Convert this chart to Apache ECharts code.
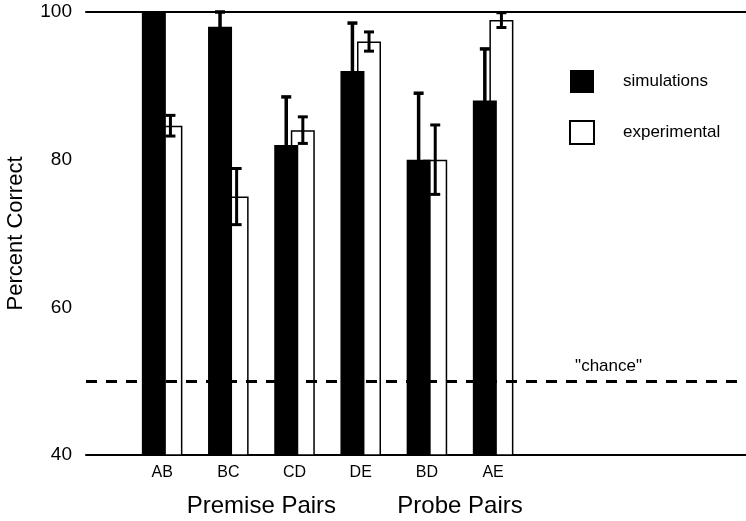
<!DOCTYPE html>
<html>
<head>
<meta charset="utf-8">
<script src="https://cdn.jsdelivr.net/npm/echarts@6/dist/echarts.min.js"></script>
<style>
  html, body { margin: 0; padding: 0; background: #fff; }
  #chart { width: 746px; height: 521px; }
</style>
</head>
<body>
<div id="chart"></div>
<script>
// values
var pairs = ['AB', 'BC', 'CD', 'DE', 'BD', 'AE'];
var simulations = [100, 98, 82, 92, 80, 88];
var simErr = [0, 2, 6.5, 6.5, 9, 7];
var experimental = [84.6, 75, 84, 96, 80, 98.9];
var expErr = [1.4, 3.8, 1.8, 1.3, 4.7, 1.0];
var groupNames = ['Premise Pairs', 'Probe Pairs'];
var groupPos = [1.5, 4.5];
var yTicks = [40, 60, 80, 100];
var chance = 50;

var font = '"Liberation Sans", Arial, sans-serif';

var simData = pairs.map(function (p, i) { return [i, simulations[i]]; });
var expData = pairs.map(function (p, i) { return [i, experimental[i]]; });
var simErrData = pairs.map(function (p, i) { return [i, simulations[i], simErr[i]]; });
var expErrData = pairs.map(function (p, i) { return [i, experimental[i], expErr[i]]; });

// whiskers drawn a few px left/right of the group centre, over each bar
function errorBar(shift, width) {
  return function (params, api) {
    var x = api.value(0), v = api.value(1), e = api.value(2);
    if (!e) return;
    var hi = api.coord([x, v + e]);
    var lo = api.coord([x, v - e]);
    var cx = hi[0] + shift;
    var style = { stroke: '#000', lineWidth: width };
    return {
      type: 'group',
      children: [
        { type: 'line', shape: { x1: cx, y1: hi[1], x2: cx, y2: lo[1] }, style: style },
        { type: 'line', shape: { x1: cx - 5, y1: hi[1], x2: cx + 5, y2: hi[1] }, style: style },
        { type: 'line', shape: { x1: cx - 5, y1: lo[1], x2: cx + 5, y2: lo[1] }, style: style }
      ]
    };
  };
}

var chart = echarts.init(document.getElementById('chart'));
chart.setOption({
  animation: false,
  backgroundColor: '#fff',
  textStyle: { fontFamily: font, color: '#000' },
  grid: { left: 86, right: 0, top: 12, bottom: 66, outerBoundsMode: 'none', containLabel: false },
  legend: {
    orient: 'vertical',
    left: 569,
    top: 70,
    padding: 0,
    itemWidth: 24,
    itemHeight: 23,
    itemGap: 27,
    icon: 'rect',
    textStyle: { fontFamily: font, fontSize: 17, color: '#000', padding: [0, 0, 0, 24] },
    data: ['simulations', 'experimental']
  },
  xAxis: [{
    type: 'value',
    min: -1.15,
    max: 8.82,
    axisLine: { lineStyle: { color: '#000', width: 2 } },
    axisTick: { show: false },
    splitLine: { show: false },
    axisLabel: {
      customValues: [0, 1, 2, 3, 4, 5],
      formatter: function (v) { return pairs[Math.round(v)]; },
      fontFamily: font, fontSize: 16, color: '#000', margin: 10
    }
  }, {
    type: 'value',
    position: 'top',
    min: -1.15,
    max: 8.82,
    axisLine: { lineStyle: { color: '#000', width: 2 } },
    axisTick: { show: false },
    axisLabel: { show: false },
    splitLine: { show: false }
  }, {
    type: 'value',
    position: 'bottom',
    min: -1.15,
    max: 8.82,
    axisLine: { show: false },
    axisTick: { show: false },
    splitLine: { show: false },
    axisLabel: {
      customValues: groupPos,
      formatter: function (v) { return groupNames[groupPos.indexOf(v)]; },
      fontFamily: font, fontSize: 24, color: '#000', margin: 39
    }
  }],
  yAxis: {
    type: 'value',
    min: 40,
    max: 100,
    interval: 20,
    name: 'Percent Correct',
    nameLocation: 'middle',
    nameGap: 59,
    nameTextStyle: { fontFamily: font, fontSize: 22, color: '#000' },
    axisLine: { show: true, lineStyle: { color: '#000', width: 2 } },
    axisTick: {
      show: true, inside: true, length: 10, customValues: yTicks,
      lineStyle: { color: '#000', width: 2 }
    },
    splitLine: { show: false },
    axisLabel: { fontFamily: font, fontSize: 19, color: '#000', margin: 14 }
  },
  series: [{
    name: 'simulations',
    type: 'bar',
    z: 4,
    barWidth: 24,
    barGap: '-31%',
    itemStyle: { color: '#000' },
    data: simData
  }, {
    name: 'experimental',
    type: 'bar',
    z: 2,
    barWidth: 24,
    itemStyle: { color: '#fff', borderColor: '#000', borderWidth: 1.5 },
    data: expData,
    markLine: {
      z: 3,
      silent: true,
      symbol: 'none',
      lineStyle: { color: '#000', type: [11, 9], width: 3 },
      label: {
        position: 'insideEndTop',
        formatter: '"chance"',
        fontFamily: font, fontSize: 17, color: '#000',
        distance: [104, 6]
      },
      data: [{ yAxis: chance }]
    }
  }, {
    type: 'custom',
    z: 5,
    renderItem: errorBar(-8.3, 3.5),
    data: simErrData
  }, {
    type: 'custom',
    z: 5,
    renderItem: errorBar(8.3, 3),
    data: expErrData
  }]
});
</script>
</body>
</html>
